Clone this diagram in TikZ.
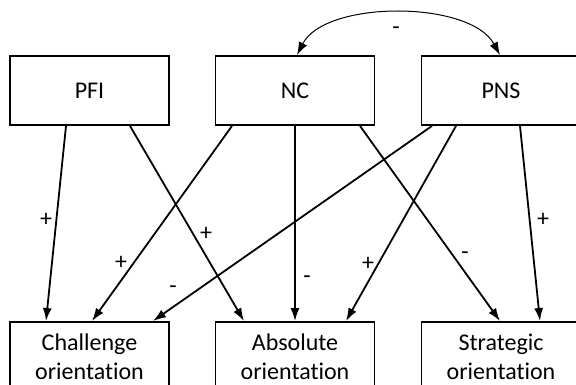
\documentclass[tikz,border=0pt]{standalone}
\usepackage{fontspec}
\setmainfont{Carlito}[Ligatures=NoCommon]
\usetikzlibrary{arrows.meta}
\begin{document}
\begin{tikzpicture}[x=1pt,y=-1pt,
  box/.style={draw,line width=1.9pt,minimum width=159pt,inner sep=0pt,font=\fontsize{24}{29}\selectfont,align=center},
  topbox/.style={box,minimum height=69pt},
  botbox/.style={box,minimum height=70pt},
  link/.style={line width=1.8pt,-{Latex[length=13pt,width=9pt]}},
  bilink/.style={line width=1pt,{Latex[length=13pt,width=9pt]}-{Latex[length=13pt,width=9pt]}},
  sign/.style={font=\fontsize{24}{29}\selectfont,inner sep=0pt}]
\clip (0,0) rectangle (576,385);
\node[topbox] (pfi) at (89.5,90.5) {PFI};
\node[topbox] (nc) at (295,90.5) {NC};
\node[topbox] (pns) at (501,90.5) {PNS};
\node[botbox] (cha) at (89.5,357) {\vphantom{lg}Challenge\\orientation};
\node[botbox] (abs) at (295,357) {\vphantom{lg}Absolute\\orientation};
\node[botbox] (str) at (501,357) {\vphantom{lg}Strategic\\orientation};
\draw[link] ([xshift=-23.5pt]pfi.south) -- ([xshift=-43.5pt]cha.north);
\draw[link] ([xshift=40.5pt]pfi.south) -- ([xshift=-51pt]abs.north);
\draw[link] ([xshift=-63pt]nc.south) -- ([xshift=2.5pt]cha.north);
\draw[link] (nc.south) -- (abs.north);
\draw[link] ([xshift=65pt]nc.south) -- ([xshift=-1pt]str.north);
\draw[link] ([xshift=-69pt]pns.south) -- ([xshift=63.5pt]cha.north);
\draw[link] ([xshift=-45pt]pns.south) -- ([xshift=51pt]abs.north);
\draw[link] ([xshift=19pt]pns.south) -- ([xshift=39pt]str.north);
\draw[bilink] ([xshift=2pt]nc.north) .. controls (325,0) and (470,0) .. ([xshift=-1pt]pns.north);
\node[sign] (s1) at (46,220) {+};
\node[sign] (s2) at (206,234) {+};
\node[sign] (s3) at (121,263) {+};
\node[sign] (s4) at (307,280) {-};
\node[sign] (s5) at (465,256) {-};
\node[sign] (s6) at (173,290) {-};
\node[sign] (s7) at (368,264) {+};
\node[sign] (s8) at (543,220) {+};
\node[sign] (s9) at (396,31) {-};
\end{tikzpicture}
\end{document}
